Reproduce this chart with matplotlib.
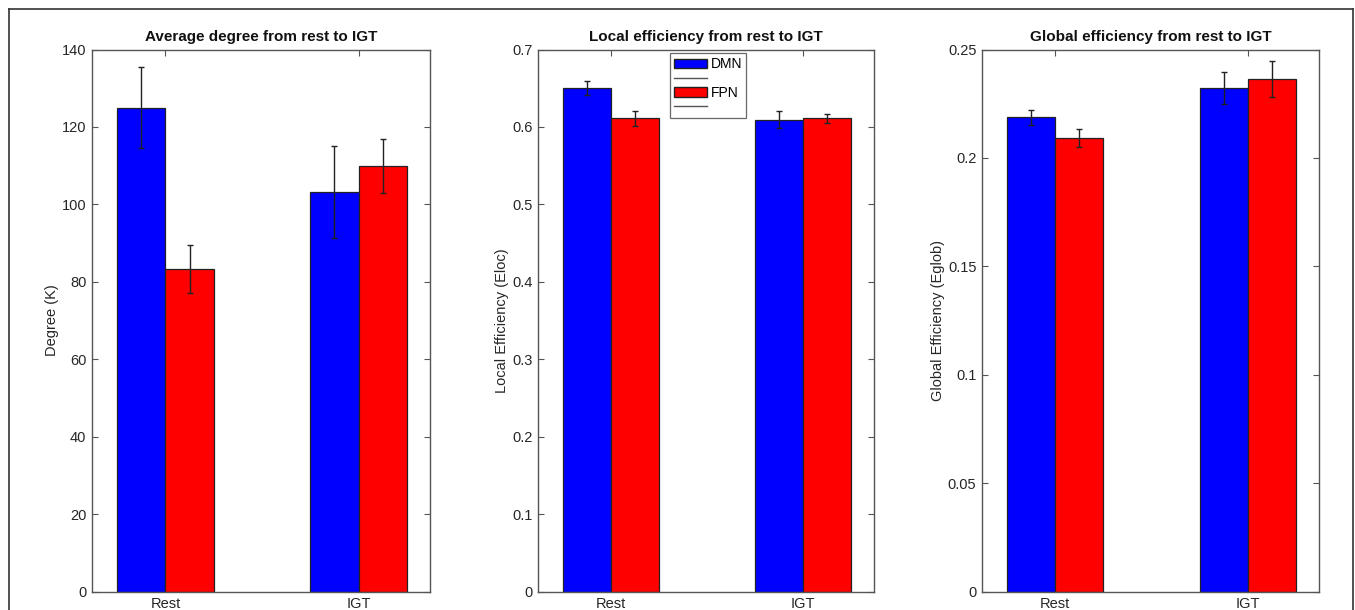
import numpy as np
import matplotlib
matplotlib.use("Agg")
import matplotlib.pyplot as plt
from matplotlib.patches import Patch
from matplotlib.lines import Line2D
from matplotlib.ticker import FuncFormatter

plt.rcParams['font.family'] = ['Liberation Sans', 'DejaVu Sans']

conditions = ['Rest', 'IGT']
networks = ['DMN', 'FPN']
colors = ['#0000ff', '#ff0000']

# mean values (rows: DMN, FPN; cols: Rest, IGT) and error bar half-widths
degree_mean = [[125.0, 103.2], [83.3, 110.0]]
degree_err = [[10.5, 11.8], [6.2, 7.0]]
eloc_mean = [[0.650, 0.609], [0.611, 0.611]]
eloc_err = [[0.009, 0.011], [0.010, 0.006]]
eglob_mean = [[0.2187, 0.2322], [0.2092, 0.2362]]
eglob_err = [[0.0035, 0.0072], [0.0042, 0.0083]]

titles = ['Average degree from rest to IGT',
          'Local efficiency from rest to IGT',
          'Global efficiency from rest to IGT']
ylabels = ['Degree (K)', 'Local Efficiency (Eloc)', 'Global Efficiency (Eglob)']
yticks = [np.arange(0, 141, 20), np.arange(0, 0.71, 0.1), np.arange(0, 0.251, 0.05)]
ylims = [(0, 140), (0, 0.7), (0, 0.25)]

fig = plt.figure(figsize=(13.55, 6.1), dpi=100)
lefts = [92, 538, 982]
widths = [338, 336, 337]
W, H = 1355, 610

spine_col = '#555555'
text_col = '#262626'

data = [(degree_mean, degree_err), (eloc_mean, eloc_err), (eglob_mean, eglob_err)]
x = np.arange(1, len(conditions) + 1)
bw = 0.25

axes = []
for i, (means, errs) in enumerate(data):
    ax = fig.add_axes([lefts[i] / W, 18.5 / H, widths[i] / W, 542 / H])
    for j in range(len(networks)):
        off = (j - 0.5) * bw
        ax.bar(x + off, means[j], width=bw, color=colors[j], edgecolor='#222222',
               linewidth=0.9, zorder=2)
        ax.errorbar(x + off, means[j], yerr=errs[j], fmt='none', ecolor='#222222',
                    elinewidth=1.0, capsize=2.5, capthick=1.0, zorder=3)
    ax.set_xlim(0.62, 2.37)
    ax.set_ylim(*ylims[i])
    ax.set_yticks(yticks[i])
    ax.yaxis.set_major_formatter(FuncFormatter(lambda v, p: '%g' % round(v, 3)))
    ax.set_xticks(x)
    ax.set_xticklabels(conditions)
    ax.tick_params(direction='in', length=4, width=0.8, color=spine_col,
                   labelsize=10.5, labelcolor=text_col, top=True, right=True, pad=4)
    for s in ax.spines.values():
        s.set_color(spine_col)
        s.set_linewidth(1.0)
    ax.set_title(titles[i], fontsize=11, fontweight='bold', color='#111111', pad=6)
    ax.set_ylabel(ylabels[i], fontsize=10.5, color=text_col, labelpad=2)
    axes.append(ax)

handles = [Patch(facecolor=colors[0], edgecolor='#222222'),
           Line2D([], [], color='#555555', lw=1),
           Patch(facecolor=colors[1], edgecolor='#222222'),
           Line2D([], [], color='#555555', lw=1)]
leg = axes[1].legend(handles, ['DMN', '', 'FPN', ''], loc='upper left',
                     bbox_to_anchor=((667 - 538) / 336, 1.0 - 1 / 542), fontsize=10,
                     frameon=True, fancybox=False, handlelength=2.4,
                     handleheight=0.7, handletextpad=0.25, labelspacing=0.02,
                     borderpad=0.3, borderaxespad=0.2)
leg.get_frame().set_edgecolor('#444444')
leg.get_frame().set_linewidth(0.9)

# outer frame around the figure (bottom edge cropped)
fx0, fx1, fy1 = 9 / W, 1353 / W, 1 - 9 / H
for xs, ys in [([fx0, fx0], [0, fy1]), ([fx0, fx1], [fy1, fy1]), ([fx1, fx1], [fy1, 0])]:
    fig.add_artist(Line2D(xs, ys, color='#333333', lw=1.2, transform=fig.transFigure))

fig.savefig('out.png', dpi=100)
